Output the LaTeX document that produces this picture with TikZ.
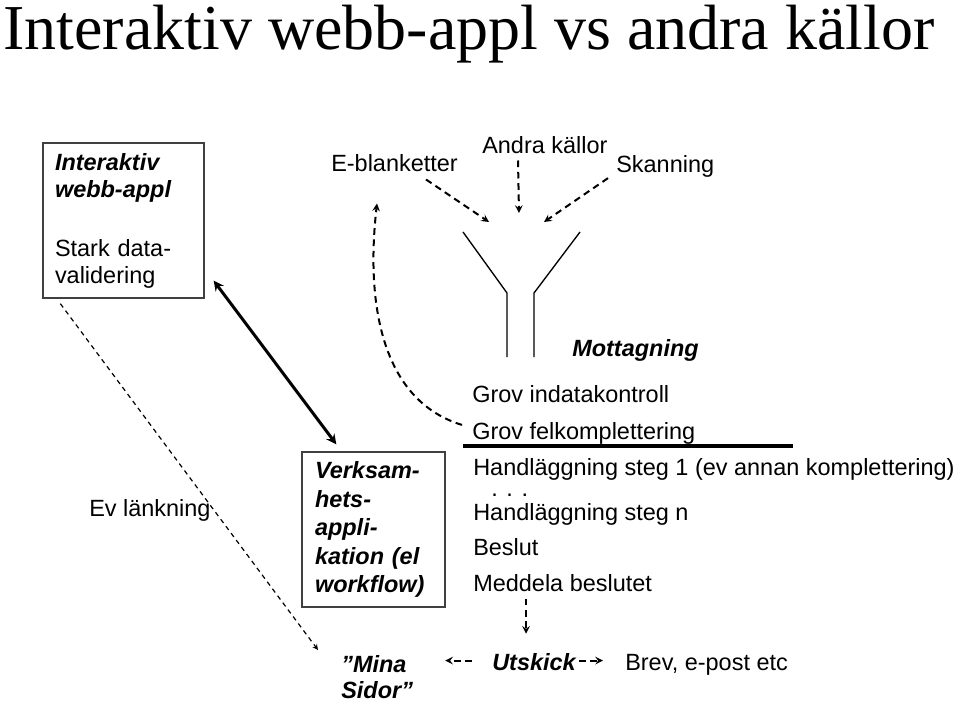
\documentclass[tikz,border=0pt]{standalone}
\usepackage{fontspec}
\setmainfont{Liberation Sans}
\newfontfamily\titlefont{Liberation Serif}
\usetikzlibrary{arrows}
\tikzstyle{txt}=[inner sep=0pt,anchor=base west,font=\fontsize{17.6pt}{21pt}\selectfont]
\tikzstyle{bitxt}=[txt,font=\fontsize{17.6pt}{21pt}\selectfont\bfseries\itshape]
\tikzstyle{appbox}=[rectangle,draw=black!75,line width=1pt,align=left,
inner ysep=0pt,minimum height=116.25pt]
\tikzstyle{arrow}=[line width=1.5pt,->,>=stealth]
\tikzstyle{dasharrow}=[arrow,dash pattern=on 5pt off 3.5pt]
\tikzstyle{thindash}=[line width=0.9pt,->,>=stealth,dash pattern=on 3.5pt off 3pt]
\tikzstyle{funnel}=[line width=1pt]

\begin{document}
\begin{tikzpicture}[x=0.75pt,y=-0.75pt]
    \useasboundingbox (0,0) rectangle (960,703);
    \node (title) [anchor=base west,inner sep=0pt,font=\titlefont\fontsize{48pt}{50pt}\selectfont]
        at (3,49) {Interaktiv webb-appl vs andra källor};

    % boxes
    \node (webb) [appbox,text width=102.75pt,inner xsep=9pt,
        font=\fontsize{17.6pt}{20.25pt}\selectfont] at (123.5,220.5)
        {{\bfseries\itshape Interaktiv\\webb-appl}\\[24pt]Stark data-\\validering};
    \node (verks) [appbox,text width=87.75pt,inner xsep=9.75pt,
        font=\fontsize{17.6pt}{21.4pt}\selectfont\bfseries\itshape] at (373.5,529.5)
        {Verksam-\\hets-\\appli-\\kation (el\\workflow)};

    % sources
    \node (eblank) [txt] at (331,171) {E-blanketter};
    \node (andra) [txt] at (482,153) {Andra källor};
    \node (skann) [txt] at (616,172) {Skanning};

    % funnel
    \draw [funnel] (463,232) -- (507,293) -- (507,357);
    \draw [funnel] (580,232) -- (534,293) -- (534,357);
    \coordinate (inL) at (489,222);
    \coordinate (inM) at (519,213);
    \coordinate (inR) at (544,222);

    % steps
    \node (mottag) [bitxt] at (572,356) {Mottagning};
    \node (grov1) [txt] at (472,402) {Grov indatakontroll};
    \node (grov2) [txt] at (472,439) {Grov felkomplettering};
    \node (hand1) [txt] at (473,475) {Handläggning steg 1 (ev annan komplettering)};
    \node (dots) [txt] at (491,496) {. . .};
    \node (handn) [txt] at (473,520) {Handläggning steg n};
    \node (beslut) [txt] at (473,555) {Beslut};
    \node (medd) [txt] at (473,591) {Meddela beslutet};

    % outputs
    \node (evlank) [txt] at (89,516) {Ev länkning};
    \node (utsk) [bitxt] at (492,670) {Utskick};
    \node (brev) [txt] at (625,670) {Brev, e-post etc};
    \node (mina) [bitxt,anchor=north west,align=left,
        font=\fontsize{17.6pt}{19.5pt}\selectfont\bfseries\itshape] at (341,655) {”Mina\\Sidor”};

    \draw [line width=3.5pt] ([shift={(-9,7)}]grov2.base west) -- ++(330,0);

    \draw [dasharrow] ([shift={(95,8)}]eblank.south west) -- (inL);
    \draw [dasharrow] ([shift={(36,7)}]andra.south west) -- (inM);
    \draw [dasharrow] ([shift={(-8,1)}]skann.south west) -- (inR);
    \draw [dasharrow] ([shift={(-10,-8)}]grov2.west) .. controls +(-82,-25) and +(-11,97) ..
        ([shift={(46,32)}]eblank.south west);
    \draw [line width=2.25pt,<->,>=stealth] ([shift={(9,-18)}]webb.south east)
        -- ([shift={(35,-7)}]verks.north west);
    \draw [thindash] ([shift={(18,5)}]webb.south west) -- ([shift={(-23,-5)}]mina.north west);
    \draw [dasharrow] ([shift={(53,7)}]medd.south west) -- ([shift={(34,-19)}]utsk.north west);
    \draw [dasharrow] ([shift={(-20,-1)}]utsk.west) -- ([shift={(32,-1)}]mina.east |- utsk.west);
    \draw [dasharrow] ([shift={(3,-1)}]utsk.east) -- ([shift={(-22,-1)}]brev.west |- utsk.east);

\end{tikzpicture}
\end{document}
